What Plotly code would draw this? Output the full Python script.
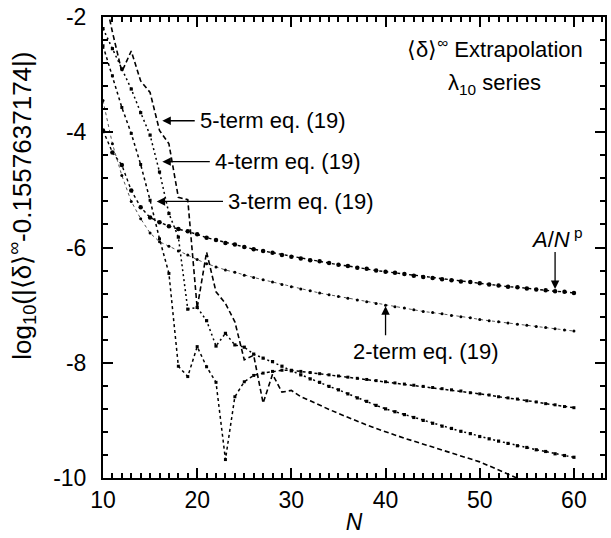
import plotly.graph_objects as go

# Sequence length N for every extrapolation sequence
N = list(range(10, 61))

# log10 |<delta>^inf - 0.1557637174| for each extrapolation
a_over_np = [-3.97, -4.35, -4.57, -5.01, -5.30, -5.48, -5.56, -5.63, -5.68, -5.72,
             -5.77, -5.83, -5.87, -5.92, -5.95, -5.99, -6.03, -6.06, -6.09, -6.13,
             -6.16, -6.19, -6.22, -6.24, -6.27, -6.30, -6.32, -6.35, -6.37, -6.40,
             -6.42, -6.44, -6.46, -6.49, -6.51, -6.53, -6.55, -6.57, -6.59, -6.60,
             -6.62, -6.64, -6.66, -6.68, -6.69, -6.71, -6.73, -6.74, -6.76, -6.77,
             -6.79]
two_term = [-3.45, -4.20, -4.75, -5.20, -5.50, -5.75, -5.90, -5.98, -6.06, -6.13,
            -6.21, -6.28, -6.34, -6.39, -6.43, -6.48, -6.52, -6.56, -6.60, -6.64,
            -6.68, -6.72, -6.75, -6.79, -6.82, -6.85, -6.88, -6.91, -6.94, -6.97,
            -7.00, -7.03, -7.05, -7.08, -7.11, -7.13, -7.15, -7.18, -7.20, -7.22,
            -7.25, -7.27, -7.29, -7.31, -7.33, -7.35, -7.37, -7.39, -7.41, -7.43,
            -7.45]
three_term = [-2.50, -3.02, -3.57, -4.02, -4.56, -5.18, -5.85, -6.45, -8.06, -8.24,
              -7.72, -8.07, -8.34, -9.68, -8.59, -8.33, -8.22, -8.18, -8.15, -8.13,
              -8.13, -8.15, -8.17, -8.19, -8.21, -8.23, -8.25, -8.27, -8.29, -8.31,
              -8.33, -8.35, -8.37, -8.39, -8.41, -8.43, -8.45, -8.47, -8.49, -8.52,
              -8.54, -8.56, -8.59, -8.61, -8.63, -8.66, -8.68, -8.71, -8.73, -8.76,
              -8.78]
four_term = [-2.20, -2.55, -2.90, -3.25, -3.66, -4.05, -4.69, -5.41, -5.82, -7.07,
             -7.04, -7.27, -7.71, -7.49, -7.69, -7.73, -7.85, -7.92, -7.98, -8.06,
             -8.14, -8.21, -8.28, -8.34, -8.41, -8.47, -8.54, -8.61, -8.67, -8.74,
             -8.80, -8.85, -8.90, -8.95, -9.00, -9.05, -9.10, -9.14, -9.19, -9.23,
             -9.28, -9.32, -9.36, -9.40, -9.44, -9.47, -9.51, -9.54, -9.58, -9.61,
             -9.64]
five_term = [-1.50, -2.26, -2.95, -2.59, -3.11, -3.31, -3.97, -4.20, -5.13, -5.17,
             -7.05, -6.08, -6.77, -6.97, -7.29, -7.95, -7.87, -8.70, -8.20, -8.51,
             -8.48, -8.59, -8.66, -8.74, -8.81, -8.88, -8.95, -9.01, -9.08, -9.14,
             -9.20, -9.26, -9.31, -9.36, -9.41, -9.46, -9.51, -9.56, -9.61, -9.66,
             -9.72, -9.79, -9.86, -9.93, -10.01, -10.08, -10.15, -10.22, -10.29, -10.36,
             -10.43]

x_tick_vals = [10, 20, 30, 40, 50, 60]
x_tick_text = ["10", "20", "30", "40", "50", "60"]
y_tick_vals = [-10, -8, -6, -4, -2]
y_tick_text = ["-10", "-8", "-6", "-4", "-2"]

FONT = "Liberation Sans, Arial, Helvetica, sans-serif"

fig = go.Figure()

fig.add_trace(go.Scatter(
    x=N, y=a_over_np, mode="lines+markers",
    line=dict(color="black", width=1.4, dash="dot"),
    marker=dict(symbol="circle", size=4.5, color="black"),
))
fig.add_trace(go.Scatter(
    x=N, y=two_term, mode="lines+markers",
    line=dict(color="#555555", width=1, dash="dot"),
    marker=dict(symbol="circle", size=3, color="black"),
))
fig.add_trace(go.Scatter(
    x=N, y=three_term, mode="lines+markers",
    line=dict(color="black", width=1.5, dash="dot"),
    marker=dict(symbol="square", size=3, color="black"),
))
fig.add_trace(go.Scatter(
    x=N, y=four_term, mode="lines+markers",
    line=dict(color="black", width=1.5, dash="2px,3px"),
    marker=dict(symbol="square", size=3.2, color="black"),
))
fig.add_trace(go.Scatter(
    x=N, y=five_term, mode="lines",
    line=dict(color="black", width=1.6, dash="5px,3px"),
))

text_font = dict(family=FONT, size=22, color="black")
annotations = []


def label(x, y, text, anchor="left"):
    annotations.append(dict(x=x, y=y, xref="x", yref="y", text=text,
                            showarrow=False, xanchor=anchor, yanchor="middle",
                            font=text_font))


def arrow(x_head, y_head, x_tail, y_tail):
    annotations.append(dict(x=x_head, y=y_head, ax=x_tail, ay=y_tail,
                            xref="x", yref="y", axref="x", ayref="y", text="",
                            showarrow=True, arrowhead=2, arrowsize=1.3,
                            arrowwidth=1.3, arrowcolor="black"))


label(51.6, -2.54, "⟨δ⟩<sup>∞</sup> Extrapolation", "center")
label(51.6, -3.16, "λ<sub>10</sub> series", "center")

label(20.05, -3.80, "5-term eq. (19)")
arrow(16.3, -3.80, 19.9, -3.80)
label(21.65, -4.51, "4-term eq. (19)")
arrow(16.3, -4.51, 21.5, -4.51)
label(23.05, -5.20, "3-term eq. (19)")
arrow(15.7, -5.20, 22.9, -5.20)

label(58.2, -5.84, "<i>A</i>/<i>N</i><sup> p</sup>", "center")
arrow(58.0, -6.72, 58.0, -6.05)
label(44.3, -7.81, "2-term eq. (19)", "center")
arrow(40.0, -7.02, 40.0, -7.55)

# rotated y-axis title
annotations.append(dict(
    x=-0.162, y=0.59, xref="paper", yref="paper", textangle=-90,
    text="log<sub>10</sub>(|⟨δ⟩<sup>∞</sup>-0.1557637174|)",
    showarrow=False, xanchor="center", yanchor="middle",
    font=dict(family=FONT, size=26, color="black"),
))

axis_common = dict(
    showline=True, linecolor="black", linewidth=2, mirror="allticks",
    ticks="inside", ticklen=10, tickwidth=2, tickcolor="black",
    showgrid=False, zeroline=False,
    tickfont=dict(family=FONT, size=23, color="black"),
)

fig.update_layout(
    width=611, height=538,
    margin=dict(l=103, r=4, t=16, b=60),
    paper_bgcolor="white", plot_bgcolor="white",
    showlegend=False,
    annotations=annotations,
    xaxis=dict(
        range=[10, 63.3], tickvals=x_tick_vals, ticktext=x_tick_text,
        minor=dict(dtick=1, tick0=10, ticks="inside", ticklen=5,
                   tickwidth=1.5, tickcolor="black"),
        title=dict(text="<i>N</i>", font=dict(family=FONT, size=23, color="black"),
                   standoff=2),
        **axis_common,
    ),
    yaxis=dict(
        range=[-10, -2], tickvals=y_tick_vals, ticktext=y_tick_text,
        ticklabelstandoff=10,
        minor=dict(dtick=0.4, tick0=-10, ticks="inside", ticklen=5,
                   tickwidth=1.5, tickcolor="black"),
        **axis_common,
    ),
)

fig.write_html("out.html")
